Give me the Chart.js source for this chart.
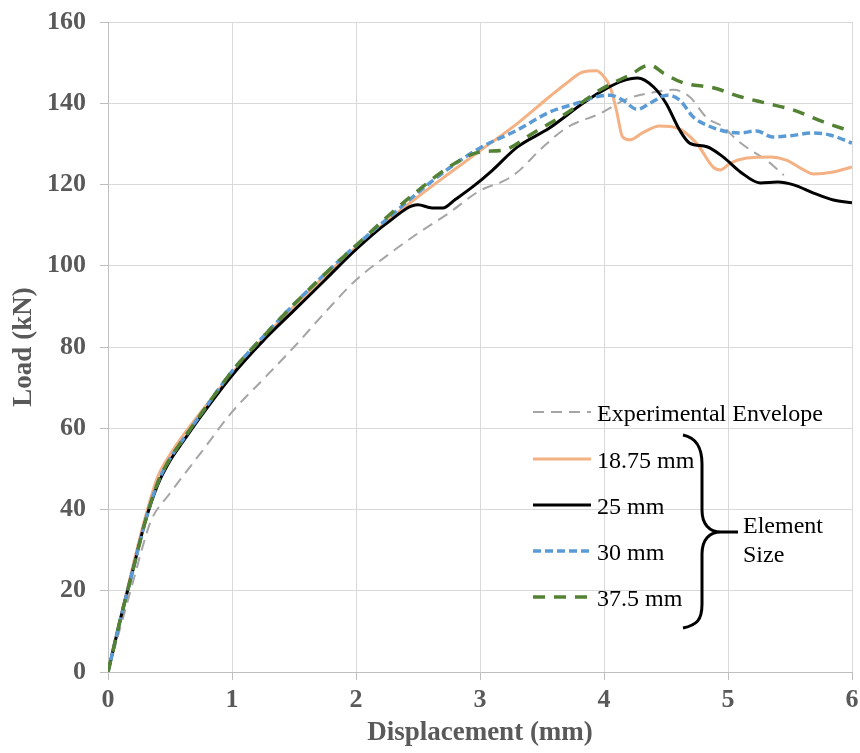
<!DOCTYPE html>
<html>
<head>
<meta charset="utf-8">
<script src="https://cdn.jsdelivr.net/npm/chart.js@4.4.1/dist/chart.umd.min.js"></script>
<style>
  body { margin: 0; background: #fff; }
  canvas { display: block; }
</style>
</head>
<body>
<canvas id="chart" width="860" height="753"></canvas>
<script>
// displacement (mm) / load (kN)
const expX = [0, 0.1, 0.2, 0.3, 0.35, 0.5, 0.75, 1.0, 1.25, 1.5, 1.75, 2.0, 2.25, 2.5, 2.75, 3.0, 3.2, 3.3, 3.5, 3.7, 3.97, 4.18, 4.37, 4.56, 4.69, 4.83, 4.96, 5.07, 5.18, 5.31, 5.45];
const expY = [0, 11, 22, 33, 37.5, 44, 54, 64, 72, 80, 88.5, 96.5, 102.5, 108, 113, 118.5, 121, 123, 129, 134, 137.5, 141, 142.5, 143.3, 141.6, 136.4, 134.2, 131, 128.5, 126, 122.3];

const m1875X = [0, 0.1, 0.2, 0.3, 0.4, 0.5, 0.6, 0.75, 1.0, 1.25, 1.5, 1.75, 2.0, 2.25, 2.5, 2.75, 3.0, 3.3, 3.56, 3.7, 3.83, 3.94, 4.0, 4.05, 4.1, 4.15, 4.21, 4.31, 4.45, 4.59, 4.75, 4.88, 4.94, 5.02, 5.15, 5.34, 5.47, 5.61, 5.69, 5.85, 6.0];
const m1875Y = [0, 13, 26, 38, 48, 53.5, 58, 64, 73.5, 82, 90, 97.5, 104.5, 111, 117, 122.7, 128.3, 135, 141.6, 145, 147.7, 148, 146.5, 144, 138.3, 131.7, 131, 132.7, 134.4, 133.9, 130, 124.3, 123.6, 125.3, 126.5, 126.8, 126, 123.6, 122.6, 123.1, 124.3];

const m25X = [0, 0.1, 0.2, 0.3, 0.4, 0.5, 0.6, 0.75, 1.0, 1.25, 1.5, 1.75, 2.0, 2.25, 2.5, 2.6, 2.7, 2.8, 2.94, 3.1, 3.3, 3.56, 3.83, 4.0, 4.15, 4.27, 4.4, 4.5, 4.61, 4.69, 4.83, 4.96, 5.1, 5.26, 5.4, 5.53, 5.69, 5.85, 6.0];
const m25Y = [0, 13, 25, 37, 46, 52, 56.5, 63, 73, 81.5, 89, 96.5, 104, 110.5, 115, 114.3, 114.2, 116.3, 119.4, 123.5, 129.2, 133.9, 140, 143.3, 145.5, 146.2, 144, 140, 133.4, 130.2, 129.3, 126.8, 123.1, 120.4, 120.6, 119.9, 117.9, 116.2, 115.5];

const m30X = [0, 0.1, 0.2, 0.3, 0.4, 0.5, 0.6, 0.75, 1.0, 1.25, 1.5, 1.75, 2.0, 2.25, 2.5, 2.75, 3.0, 3.3, 3.56, 3.78, 3.94, 4.05, 4.15, 4.27, 4.37, 4.51, 4.61, 4.72, 4.83, 4.99, 5.1, 5.23, 5.36, 5.5, 5.69, 5.82, 6.0];
const m30Y = [0, 13, 25, 37, 46.5, 52.5, 57, 63.5, 74, 82.5, 90.5, 98, 105, 111.5, 118, 124, 129, 133.4, 137.8, 140, 141.6, 142, 140.8, 138.5, 140, 142, 140.8, 136.6, 134.6, 133, 132.7, 133.2, 131.7, 132, 132.7, 132.2, 130.2];

const m375X = [0, 0.1, 0.2, 0.3, 0.4, 0.5, 0.6, 0.75, 1.0, 1.25, 1.5, 1.75, 2.0, 2.25, 2.5, 2.75, 3.0, 3.19, 3.43, 3.7, 3.97, 4.21, 4.37, 4.48, 4.64, 4.88, 5.1, 5.31, 5.53, 5.77, 6.0];
const m375Y = [0, 13, 25, 37, 46.5, 52.5, 57, 63.5, 74, 82.5, 90.5, 98, 105, 112, 118.5, 124.3, 128, 128.5, 132.7, 137.6, 143.3, 147, 149.4, 147.4, 145, 143.8, 141.6, 140, 138.3, 135.4, 133];

const xTicks = [0, 1, 2, 3, 4, 5, 6];
const yTicks = [0, 20, 40, 60, 80, 100, 120, 140, 160];

const seriesNames = ["Experimental Envelope", "18.75 mm", "25 mm", "30 mm", "37.5 mm"];
const seriesColors = ["#A5A5A5", "#F4B183", "#000000", "#5B9BD5", "#548235"];
const seriesDash = [[11, 7], [], [], [8, 4], [12, 9]];
const seriesWidth = [2, 3, 3, 3.5, 3.5];

const pts = (xs, ys) => xs.map((x, i) => ({ x: x, y: ys[i] }));
const seriesData = [pts(expX, expY), pts(m1875X, m1875Y), pts(m25X, m25Y), pts(m30X, m30Y), pts(m375X, m375Y)];

const serif = "'Liberation Serif', 'Times New Roman', serif";
const axisGray = "#595959";

// legend with the brace, drawn inside the plot like the original
const braceLegend = {
  id: "braceLegend",
  afterDraw(chart) {
    const { ctx, chartArea } = chart;
    const L = chartArea.left, T = chartArea.top;
    const rowY = [390, 437, 483, 529, 575];
    ctx.save();
    ctx.font = "24px " + serif;
    ctx.fillStyle = "#000";
    ctx.textBaseline = "alphabetic";
    for (let i = 0; i < seriesNames.length; i++) {
      const y = T + rowY[i];
      ctx.beginPath();
      ctx.strokeStyle = seriesColors[i];
      ctx.lineWidth = seriesWidth[i];
      ctx.setLineDash(seriesDash[i]);
      ctx.moveTo(L + 425, y);
      ctx.lineTo(L + 483, y);
      ctx.stroke();
      ctx.setLineDash([]);
      ctx.fillText(seriesNames[i], L + 489, y + 8.5);
    }
    // brace
    ctx.strokeStyle = "#000";
    ctx.lineWidth = 3;
    ctx.beginPath();
    ctx.moveTo(L + 575, T + 413);
    ctx.bezierCurveTo(L + 589, T + 416, L + 594, T + 426, L + 594, T + 442);
    ctx.lineTo(L + 594, T + 488);
    ctx.bezierCurveTo(L + 594, T + 502, L + 601, T + 510, L + 613, T + 510);
    ctx.lineTo(L + 630, T + 510);
    ctx.moveTo(L + 613, T + 510);
    ctx.bezierCurveTo(L + 601, T + 510, L + 594, T + 518, L + 594, T + 532);
    ctx.lineTo(L + 594, T + 582);
    ctx.bezierCurveTo(L + 594, T + 598, L + 589, T + 603, L + 575, T + 606);
    ctx.stroke();
    ctx.fillText("Element", L + 635, T + 511);
    ctx.fillText("Size", L + 635, T + 540);
    ctx.restore();
  }
};

const datasets = seriesNames.map((name, i) => ({
  label: name,
  data: seriesData[i],
  borderColor: seriesColors[i],
  borderWidth: seriesWidth[i],
  borderDash: seriesDash[i],
  pointRadius: 0,
  fill: false,
  cubicInterpolationMode: "monotone",
  order: seriesNames.length - 1 - i
}));

const tickFont = { family: serif, size: 26, weight: "bold" };
const titleFont = { family: serif, size: 27, weight: "bold" };

new Chart(document.getElementById("chart"), {
  type: "line",
  data: { datasets: datasets },
  options: {
    responsive: false,
    animation: false,
    layout: { padding: { top: 22, right: 8, left: 0, bottom: 0 } },
    plugins: { legend: { display: false }, tooltip: { enabled: false } },
    scales: {
      x: {
        type: "linear",
        min: xTicks[0],
        max: xTicks[xTicks.length - 1],
        afterBuildTicks: (s) => { s.ticks = xTicks.map(v => ({ value: v })); },
        afterFit: (s) => { s.height = 81; s.paddingLeft = 0; s.paddingRight = 0; },
        ticks: { font: tickFont, color: axisGray, padding: 5, maxRotation: 0 },
        grid: { color: "#D9D9D9", tickColor: "#BFBFBF", tickLength: 8, lineWidth: 1 },
        border: { color: "#BFBFBF", width: 1 },
        title: { display: true, text: "Displacement (mm)", font: titleFont, color: axisGray }
      },
      y: {
        min: yTicks[0],
        max: yTicks[yTicks.length - 1],
        afterBuildTicks: (s) => { s.ticks = yTicks.map(v => ({ value: v })); },
        afterFit: (s) => { s.width = 108; s.paddingTop = 0; s.paddingBottom = 0; },
        ticks: { font: tickFont, color: axisGray, padding: 14 },
        grid: { color: "#D9D9D9", tickColor: "#BFBFBF", tickLength: 8, lineWidth: 1 },
        border: { color: "#BFBFBF", width: 1 },
        title: { display: true, text: "Load (kN)", font: titleFont, color: axisGray, padding: { top: 8, bottom: 4 } }
      }
    }
  },
  plugins: [braceLegend]
});
</script>
</body>
</html>
